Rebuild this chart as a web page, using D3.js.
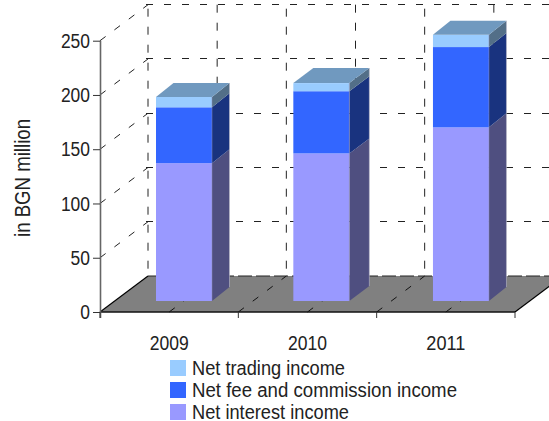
<!DOCTYPE html>
<html><head><meta charset="utf-8">
<style>html,body{margin:0;padding:0;background:#fff}svg{display:block}text{font-family:"Liberation Sans",Arial,sans-serif;fill:#222}</style>
<script src="https://cdn.jsdelivr.net/npm/d3@7/dist/d3.min.js"></script>
</head><body><svg id="c" width="549" height="421"></svg>
<script>
const categories = ["2009","2010","2011"];
const netInterest = [127, 136, 160];
const netFee = [51.5, 57.3, 74];
const netTrading = [9.5, 7.5, 11.3];
const yTicks = [0,50,100,150,200,250];
const seriesNames = ["Net interest income","Net fee and commission income","Net trading income"];
const seriesColors = ["#9999FF","#3366FF","#99CCFF"];
const sideColors = ["#4F4F80","#19337F","#536F88"];
const topColor = "#7099BF";
const legendWidths = [157,265,153];

const svg = d3.select("#c");
const y = d3.scaleLinear().domain([0,250]).range([312,40.7]);
const x = d3.scaleBand().domain(categories).range([100,515]);
const DX = 48, DY = 36, W = 549;
const step = x.step();
const grid = "#222";
const dash = "7 11";

// back wall and side-wall gridlines
yTicks.slice(1).forEach(t=>{
  const yy = y(t);
  svg.append("line").attr("x1",100).attr("y1",yy).attr("x2",100+DX).attr("y2",yy-DY)
    .attr("stroke",grid).attr("stroke-dasharray",dash);
  svg.append("line").attr("x1",146).attr("y1",yy-DY).attr("x2",W).attr("y2",yy-DY)
    .attr("stroke",grid).attr("stroke-dasharray",dash).attr("shape-rendering","crispEdges");
});
d3.range(0,6).forEach(i=>{
  const bx = 100+DX+i*step/2;
  svg.append("line").attr("x1",bx).attr("y1",y(250)-DY).attr("x2",bx).attr("y2",y(0)-DY)
    .attr("stroke",grid).attr("stroke-dasharray","8 10").attr("stroke-dashoffset",i%2?0:-4);
});

// floor
const x0=100,x1=515;
svg.append("polygon")
  .attr("points",[[x0,y(0)],[x1,y(0)],[x1+DX,y(0)-DY],[x0+DX,y(0)-DY]].join(" "))
  .attr("fill","#808080");
svg.append("line").attr("x1",x0+DX).attr("y1",y(0)-DY).attr("x2",W).attr("y2",y(0)-DY)
  .attr("stroke","#222").attr("stroke-dasharray","14 4");
d3.range(1,6).forEach(i=>{
  const fx = x0+i*step/2;
  svg.append("line").attr("x1",fx).attr("y1",y(0)).attr("x2",fx+DX).attr("y2",y(0)-DY)
    .attr("stroke","#111").attr("stroke-dasharray",dash);
});
svg.append("line").attr("x1",x0).attr("y1",y(0)).attr("x2",x0+DX).attr("y2",y(0)-DY).attr("stroke","#000").attr("stroke-width",1.2);
svg.append("line").attr("x1",x1).attr("y1",y(0)).attr("x2",x1+DX).attr("y2",y(0)-DY).attr("stroke","#000").attr("stroke-width",1.2);
svg.append("line").attr("x1",x0).attr("y1",y(0)).attr("x2",x1).attr("y2",y(0)).attr("stroke","#111").attr("stroke-width",1.6);

// bars
const series = [netInterest, netFee, netTrading];
const barW = 56, lift = 11;
const barOff = [56,55,56.3];
const depthX = [17.5,20,17.5], depthY = [14,15,14];
categories.forEach((c,i)=>{
  const left = x(c)+barOff[i], right = left+barW;
  const dx = depthX[i], dy = depthY[i];
  let cum = 0;
  series.forEach((s,k)=>{
    const b = y(cum)-lift, t = y(cum+s[i])-lift;
    svg.append("polygon").attr("points",[[right,b],[right+dx,b-dy],[right+dx,t-dy],[right,t]].join(" "))
      .attr("fill",sideColors[k]);
    svg.append("rect").attr("x",left).attr("y",t).attr("width",barW).attr("height",b-t)
      .attr("fill",seriesColors[k]);
    cum += s[i];
  });
  const t = y(cum)-lift;
  svg.append("polygon").attr("points",[[left,t],[right,t],[right+dx,t-dy],[left+dx,t-dy]].join(" "))
    .attr("fill",topColor);
  svg.append("line").attr("x1",right+dx).attr("x2",right+dx).attr("y1",t-dy).attr("y2",y(0)-lift-dy)
    .attr("stroke","#b8b8c8").attr("stroke-width",.6);
  svg.append("line").attr("x1",right).attr("x2",right).attr("y1",t).attr("y2",y(0)-lift)
    .attr("stroke","#8f8fb0").attr("stroke-width",.5);
});

// axes
const yAxis = d3.axisLeft(y).tickValues(yTicks).tickSize(7).tickPadding(3);
const gy = svg.append("g").attr("transform","translate(100,0)").call(yAxis);
gy.select(".domain").attr("stroke","#666").attr("stroke-width",1.6).attr("d",`M0.5,${y(250)}V${y(0)+6}`);
gy.selectAll(".tick line").attr("stroke","#333");
gy.selectAll(".tick text").attr("font-size",20.5).attr("fill","#222")
  .attr("font-family","Liberation Sans")
  .attr("textLength",d=>String(d).length*9.7).attr("lengthAdjust","spacingAndGlyphs");

d3.range(0,4).forEach(i=>{
  const fx = x0+i*step;
  svg.append("line").attr("x1",fx).attr("x2",fx).attr("y1",y(0)).attr("y2",y(0)+6).attr("stroke","#333");
});
const xAxis = d3.axisBottom(x).tickSize(0).tickPadding(23);
const gx = svg.append("g").attr("transform",`translate(0,${y(0)})`).call(xAxis);
gx.select(".domain").remove();
gx.selectAll(".tick text").attr("font-size",20.5).attr("fill","#222")
  .attr("font-family","Liberation Sans")
  .attr("textLength",39).attr("lengthAdjust","spacingAndGlyphs");

// axis title
svg.append("text").attr("transform","translate(29.5,178) rotate(-90)").attr("text-anchor","middle")
  .attr("font-size",22).attr("textLength",118).attr("lengthAdjust","spacingAndGlyphs").text("in BGN million");

// legend
const order = [2,1,0];
order.forEach((k,i)=>{
  const ly = 360+i*22;
  svg.append("rect").attr("x",170).attr("y",ly).attr("width",16).attr("height",16).attr("fill",seriesColors[k]);
  svg.append("text").attr("x",192).attr("y",ly+15).attr("font-size",19.5)
    .attr("textLength",legendWidths[k]).attr("lengthAdjust","spacingAndGlyphs").text(seriesNames[k]);
});
</script></body></html>
